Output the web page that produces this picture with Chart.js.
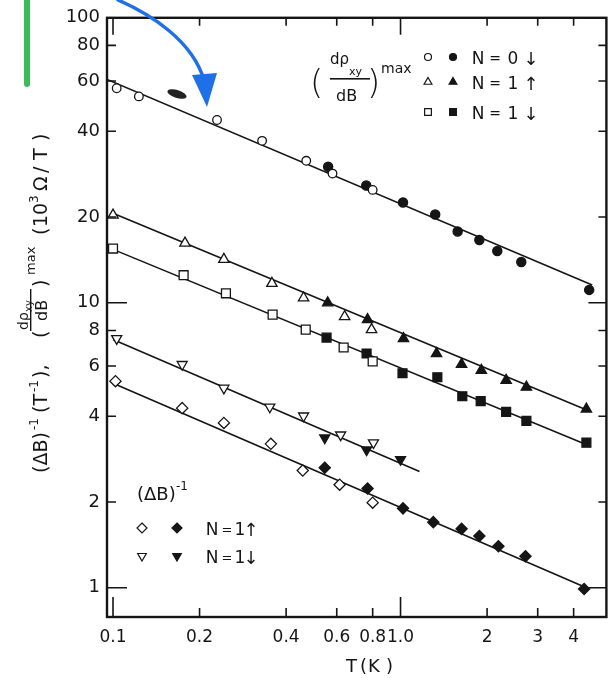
<!DOCTYPE html>
<html>
<head>
<meta charset="utf-8">
<script src="https://cdn.jsdelivr.net/npm/chart.js@4.4.1/dist/chart.umd.min.js"></script>
<style>
  html, body { margin: 0; padding: 0; background: #fff; }
  canvas { display: block; }
</style>
</head>
<body>
<canvas id="grafico" width="614" height="678"></canvas>
<script>
// ejes
var xTicks = [0.1, 0.2, 0.4, 0.6, 0.8, 1, 2, 3, 4];
var xTickLabels = ["0.1", "0.2", "0.4", "0.6", "0.8", "1.0", "2", "3", "4"];
var yTicks = [1, 2, 4, 6, 8, 10, 20, 40, 60, 80, 100];
var yTickLabels = ["1", "2", "4", "6", "8", "10", "20", "40", "60", "80", "100"];

// (d rho_xy / dB)^max, N=0 (circulos)
var circOpenT = [0.103, 0.123, 0.23, 0.33, 0.47, 0.58, 0.80];
var circOpenV = [56.6, 53.0, 43.8, 37.0, 31.5, 28.4, 24.9];
var circFillT = [0.56, 0.76, 1.02, 1.32, 1.58, 1.88, 2.17, 2.63, 4.53];
var circFillV = [30.0, 25.8, 22.5, 20.4, 17.8, 16.6, 15.2, 13.9, 11.1];

// N=1 arriba (triangulos)
var triOpenT = [0.100, 0.178, 0.243, 0.357, 0.460, 0.639, 0.793];
var triOpenV = [20.3, 16.2, 14.2, 11.7, 10.4, 8.94, 8.05];
var triFillT = [0.558, 0.768, 1.024, 1.334, 1.63, 1.91, 2.33, 2.74, 4.43];
var triFillV = [10.0, 8.73, 7.49, 6.64, 6.08, 5.80, 5.35, 5.06, 4.24];

// N=1 abajo (cuadrados)
var sqOpenT = [0.100, 0.176, 0.247, 0.359, 0.468, 0.634, 0.80];
var sqOpenV = [15.5, 12.5, 10.8, 9.09, 8.05, 6.97, 6.23];
var sqFillT = [0.553, 0.762, 1.016, 1.343, 1.64, 1.90, 2.33, 2.74, 4.43];
var sqFillV = [7.55, 6.64, 5.66, 5.48, 4.70, 4.52, 4.14, 3.85, 3.23];

// (dB)^-1, N=1 abajo (triangulos invertidos)
var invOpenT = [0.103, 0.174, 0.243, 0.351, 0.460, 0.619, 0.805];
var invOpenV = [7.49, 6.08, 5.02, 4.31, 4.01, 3.44, 3.23];
var invFillT = [0.545, 0.762, 1.0];
var invFillV = [3.36, 3.05, 2.82];

// (dB)^-1, N=1 arriba (rombos)
var diaOpenT = [0.102, 0.174, 0.243, 0.354, 0.457, 0.614, 0.80];
var diaOpenV = [5.31, 4.27, 3.79, 3.20, 2.58, 2.30, 1.99];
var diaFillT = [0.545, 0.768, 1.02, 1.30, 1.63, 1.88, 2.19, 2.72, 4.35];
var diaFillV = [2.64, 2.23, 1.90, 1.70, 1.61, 1.52, 1.40, 1.29, 0.99];

// rectas de ajuste (extremos)
var fitCircT = [0.0953, 4.64], fitCircV = [60.8, 11.55];
var fitTriT = [0.1, 4.53], fitTriV = [20.6, 4.17];
var fitSqT = [0.1, 4.53], fitSqV = [15.4, 3.15];
var fitInvT = [0.1, 1.164], fitInvV = [7.43, 2.56];
var fitDiaT = [0.1, 4.43], fitDiaV = [5.22, 1.0];

var INK = "#151515";
var FONT = "'DejaVu Sans', sans-serif";

function pares(xs, ys) {
    return xs.map(function (x, i) { return { x: x, y: ys[i] }; });
}

function puntos(xs, ys, estilo, lleno, radio, rot) {
    return {
        data: pares(xs, ys),
        pointStyle: estilo,
        pointRadius: radio,
        pointRotation: rot || 0,
        pointBackgroundColor: lleno ? INK : "#fff",
        pointBorderColor: INK,
        pointBorderWidth: 1.3,
        showLine: false,
        order: 1
    };
}

function recta(xs, ys) {
    return {
        data: pares(xs, ys),
        showLine: true,
        borderColor: INK,
        borderWidth: 1.6,
        pointRadius: 0,
        order: 2
    };
}

function marca(ctx, forma, x, y, r, lleno) {
    ctx.beginPath();
    if (forma === "circle") {
        ctx.arc(x, y, r, 0, Math.PI * 2);
    } else if (forma === "tri") {
        ctx.moveTo(x, y - r);
        ctx.lineTo(x + r * 0.866, y + r / 2);
        ctx.lineTo(x - r * 0.866, y + r / 2);
    } else if (forma === "inv") {
        ctx.moveTo(x, y + r);
        ctx.lineTo(x + r * 0.866, y - r / 2);
        ctx.lineTo(x - r * 0.866, y - r / 2);
    } else if (forma === "sq") {
        var s = r * 0.75;
        ctx.rect(x - s, y - s, 2 * s, 2 * s);
    } else if (forma === "dia") {
        ctx.moveTo(x, y - r);
        ctx.lineTo(x + r, y);
        ctx.lineTo(x, y + r);
        ctx.lineTo(x - r, y);
    }
    ctx.closePath();
    ctx.fillStyle = lleno ? INK : "#fff";
    ctx.fill();
    ctx.lineWidth = 1.2;
    ctx.strokeStyle = INK;
    ctx.stroke();
}

// texto en posiciones sueltas (centrado en cx)
function letras(ctx, partes, y, font) {
    ctx.font = font;
    ctx.textAlign = "center";
    partes.forEach(function (p) { ctx.fillText(p[1], p[0], y); });
    ctx.textAlign = "left";
}

var marco = {
    id: "marco",
    afterDraw: function (chart) {
        var ctx = chart.ctx;
        var a = chart.chartArea;
        var xs = chart.scales.x, ys = chart.scales.y;
        ctx.save();
        ctx.strokeStyle = INK;

        // marco
        ctx.lineWidth = 2.4;
        ctx.strokeRect(a.left, a.top, a.right - a.left, a.bottom - a.top);

        // marcas hacia dentro
        ctx.lineWidth = 1.6;
        ctx.beginPath();
        xTicks.forEach(function (v) {
            var px = xs.getPixelForValue(v);
            var l = (v === 0.1 || v === 1) ? 20 : 9;
            ctx.moveTo(px, a.bottom); ctx.lineTo(px, a.bottom - l);
            ctx.moveTo(px, a.top); ctx.lineTo(px, a.top + (l === 20 ? 17 : 8));
        });
        yTicks.forEach(function (v) {
            var py = ys.getPixelForValue(v);
            var l = (v === 1 || v === 10 || v === 100) ? 20 : 9;
            ctx.moveTo(a.left, py); ctx.lineTo(a.left + l, py);
            ctx.moveTo(a.right, py); ctx.lineTo(a.right - (l === 20 ? 18 : 8), py);
        });
        ctx.stroke();

        ctx.fillStyle = INK;
        ctx.textBaseline = "alphabetic";

        // leyenda superior
        ctx.font = "200 34px " + FONT;
        ctx.fillText("(", 310, 94);
        ctx.fillText(")", 367, 94);
        ctx.font = "15px " + FONT;
        ctx.fillText("d\u03C1", 330, 64);
        ctx.font = "11px " + FONT;
        ctx.fillText("xy", 349, 75);
        ctx.fillRect(330, 78, 40, 1.6);
        ctx.font = "16px " + FONT;
        ctx.fillText("dB", 336, 101);
        ctx.font = "14px " + FONT;
        ctx.fillText("max", 381, 73);

        var filas = [[57, "circle", "0", "\u2193"], [82, "tri", "1", "\u2191"], [112, "sq", "1", "\u2193"]];
        filas.forEach(function (f) {
            var r = f[1] === "circle" ? 3.5 : 4.5;
            marca(ctx, f[1], 428, f[0], r, false);
            marca(ctx, f[1], 453, f[0], r, true);
            ctx.fillStyle = INK;
            letras(ctx, [[478, "N"], [513, f[2]]], f[0] + 7, "17px " + FONT);
            letras(ctx, [[495, "="]], f[0] + 6, "14px " + FONT);
            letras(ctx, [[531, f[3]]], f[0] + 8, "18px " + FONT);
        });

        // leyenda inferior
        ctx.font = "18px " + FONT;
        ctx.fillText("(\u0394B)", 137, 500);
        ctx.font = "12px " + FONT;
        ctx.fillText("-1", 176, 490);
        var filas2 = [[528, "dia", "\u2191"], [556, "inv", "\u2193"]];
        filas2.forEach(function (f) {
            marca(ctx, f[1], 142, f[0], 5, false);
            marca(ctx, f[1], 177, f[0], 5, true);
            ctx.fillStyle = INK;
            letras(ctx, [[212, "N"], [240, "1"]], f[0] + 7, "17px " + FONT);
            letras(ctx, [[227, "="]], f[0] + 6, "13px " + FONT);
            letras(ctx, [[251, f[2]]], f[0] + 8, "18px " + FONT);
        });

        // titulo eje x
        ctx.font = "18px " + FONT;
        ctx.fillText("T", 346, 672);
        ctx.fillText("(", 360, 672);
        ctx.fillText("K", 368, 672);
        ctx.fillText(")", 386, 672);

        // titulo eje y (girado)
        ctx.translate(47, 473);
        ctx.rotate(-Math.PI / 2);
        var F = "19px " + FONT, S = "12px " + FONT;
        var piezas = [
            [0, "(\u0394B)", F, 0],
            [43, "-1", S, 9],
            [60, "(T", F, 0],
            [81, "-1", S, 9],
            [95, "),", F, 0],
            [135, "(", F, 0],
            [143, "d\u03C1", "14px " + FONT, 19],
            [161, "xy", "10px " + FONT, 15],
            [152, "dB", "16px " + FONT, 0],
            [186, ")", F, 0],
            [198, "max", "13px " + FONT, 12],
            [238, "(", F, 0],
            [246, "10", F, 0],
            [270, "3", S, 9],
            [282, "\u03A9", F, 0],
            [300, "/", F, 0],
            [313, "T", F, 0],
            [332, ")", F, 0]
        ];
        piezas.forEach(function (p) {
            ctx.font = p[2];
            ctx.fillText(p[1], p[0], -p[3]);
        });
        ctx.fillRect(142, -17, 42, 1.4);
        ctx.setTransform(1, 0, 0, 1, 0, 0);

        // anotaciones a mano del escaneo
        ctx.lineCap = "round";
        ctx.strokeStyle = "#3dbb5a";
        ctx.lineWidth = 6;
        ctx.beginPath();
        ctx.moveTo(27, 0); ctx.lineTo(27, 84);
        ctx.stroke();

        ctx.strokeStyle = "#1f6fe6";
        ctx.lineWidth = 3.5;
        ctx.beginPath();
        ctx.moveTo(118, 0);
        ctx.bezierCurveTo(150, 14, 192, 40, 204, 80);
        ctx.stroke();
        ctx.fillStyle = "#1f6fe6";
        ctx.beginPath();
        ctx.moveTo(192, 75); ctx.lineTo(217, 73); ctx.lineTo(207, 107);
        ctx.closePath();
        ctx.fill();

        ctx.fillStyle = "#222";
        ctx.beginPath();
        ctx.ellipse(177, 94, 10, 4, 0.3, 0, Math.PI * 2);
        ctx.fill();

        ctx.restore();
    }
};

document.addEventListener("DOMContentLoaded", function () {
    var canvas = document.getElementById("grafico");
    var ctx = canvas.getContext("2d");

    var datasets = [
        puntos(circOpenT, circOpenV, "circle", false, 4.3),
        puntos(circFillT, circFillV, "circle", true, 4.6),
        puntos(triOpenT, triOpenV, "triangle", false, 6),
        puntos(triFillT, triFillV, "triangle", true, 6),
        puntos(sqOpenT, sqOpenV, "rect", false, 6.3),
        puntos(sqFillT, sqFillV, "rect", true, 6.3),
        puntos(invOpenT, invOpenV, "triangle", false, 5.8, 180),
        puntos(invFillT, invFillV, "triangle", true, 5.8, 180),
        puntos(diaOpenT, diaOpenV, "rectRot", false, 5.6),
        puntos(diaFillT, diaFillV, "rectRot", true, 5.6),
        recta(fitCircT, fitCircV),
        recta(fitTriT, fitTriV),
        recta(fitSqT, fitSqV),
        recta(fitInvT, fitInvV),
        recta(fitDiaT, fitDiaV)
    ];

    new Chart(ctx, {
        type: "scatter",
        data: { datasets: datasets },
        options: {
            responsive: false,
            animation: false,
            layout: { padding: { top: 14, right: 4, left: 0, bottom: 0 } },
            plugins: { legend: { display: false }, tooltip: { enabled: false } },
            scales: {
                x: {
                    type: "logarithmic",
                    min: 0.0953,
                    max: 5.2,
                    afterBuildTicks: function (s) { s.ticks = xTicks.map(function (v) { return { value: v }; }); },
                    afterFit: function (s) { s.height = 61; },
                    ticks: {
                        autoSkip: false,
                        maxRotation: 0,
                        padding: 10,
                        color: INK,
                        font: { family: FONT, size: 17 },
                        callback: function (v, i) { return xTickLabels[i]; }
                    },
                    grid: { display: false, drawTicks: false },
                    border: { display: false }
                },
                y: {
                    type: "logarithmic",
                    min: 0.79,
                    max: 100,
                    afterBuildTicks: function (s) { s.ticks = yTicks.map(function (v) { return { value: v }; }); },
                    afterFit: function (s) { s.width = 107; },
                    ticks: {
                        autoSkip: false,
                        padding: 7,
                        color: INK,
                        font: { family: FONT, size: 18 },
                        callback: function (v, i) { return yTickLabels[i]; }
                    },
                    grid: { display: false, drawTicks: false },
                    border: { display: false }
                }
            }
        },
        plugins: [marco]
    });
});
</script>
</body>
</html>
